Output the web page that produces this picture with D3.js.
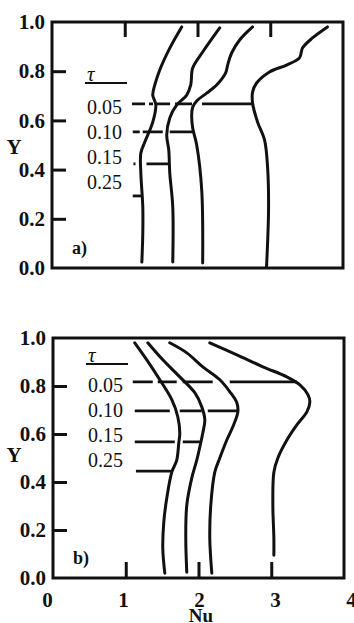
<!DOCTYPE html>
<html lang="en">
<head>
<meta charset="UTF-8">
<title>Nu profiles</title>
<script src="https://cdn.jsdelivr.net/npm/d3@7"></script>
<style>
  body { margin: 0; background: #fff; }
  svg text { font-family: "Liberation Serif", "Times New Roman", serif; fill: #111; }
</style>
</head>
<body>
<svg id="chart" width="354" height="623"></svg>
<script>
// tick values
var yTicks = [0, 0.2, 0.4, 0.6, 0.8, 1.0];
var yTickMarks = [0.2, 0.4, 0.6, 0.8];
var nuTicks = [0, 1, 2, 3, 4];
var nuTickMarks = [1, 2, 3];
var tauLabels = ["0.05", "0.10", "0.15", "0.25"];

// panel a) curves, [Nu, Y], one per tau (0.05, 0.10, 0.15, 0.25)
var aTau05 = [[2.949,0.004],[2.977,0.248],[2.963,0.411],[2.922,0.520],[2.826,0.593],[2.757,0.671],[2.757,0.715],[2.812,0.752],[2.990,0.797],[3.224,0.825],[3.402,0.854],[3.443,0.894],[3.580,0.935],[3.786,0.980]];
var aTau10 = [[2.071,0.020],[2.058,0.317],[1.989,0.500],[1.934,0.569],[1.920,0.622],[1.934,0.654],[1.989,0.679],[2.126,0.711],[2.263,0.744],[2.387,0.793],[2.414,0.825],[2.469,0.874],[2.579,0.927],[2.757,0.980]];
var aTau15 = [[1.660,0.024],[1.660,0.248],[1.619,0.386],[1.605,0.480],[1.577,0.541],[1.619,0.610],[1.715,0.663],[1.852,0.703],[1.907,0.744],[1.934,0.813],[2.071,0.878],[2.305,0.976]];
var aTau25 = [[1.235,0.024],[1.248,0.142],[1.248,0.248],[1.221,0.386],[1.221,0.467],[1.276,0.512],[1.385,0.593],[1.427,0.663],[1.385,0.703],[1.413,0.744],[1.481,0.805],[1.619,0.894],[1.783,0.980]];
// panel a) front markers
var aMarkY  = [0.667, 0.553, 0.423, 0.293];
var aMarkX0 = [1.10, 1.11, 1.12, 1.11];
var aMarkX1 = [2.757, 1.934, 1.62, 1.235];

// panel b) curves
var bTau05 = [[3.036,0.095],[3.036,0.166],[3.022,0.304],[3.036,0.441],[3.091,0.500],[3.215,0.575],[3.352,0.638],[3.490,0.692],[3.531,0.734],[3.504,0.764],[3.394,0.805],[3.215,0.838],[2.885,0.880],[2.527,0.930],[2.155,0.980]];
var bTau10 = [[2.183,0.020],[2.155,0.166],[2.169,0.304],[2.224,0.441],[2.293,0.500],[2.389,0.575],[2.472,0.630],[2.541,0.692],[2.527,0.730],[2.431,0.776],[2.293,0.826],[2.059,0.880],[1.839,0.938],[1.605,0.980]];
var bTau15 = [[1.839,0.024],[1.825,0.166],[1.839,0.304],[1.908,0.417],[1.977,0.492],[2.018,0.546],[2.059,0.604],[2.087,0.659],[2.045,0.713],[1.949,0.772],[1.743,0.838],[1.509,0.909],[1.303,0.980]];
var bTau25 = [[1.537,0.020],[1.509,0.124],[1.523,0.233],[1.564,0.333],[1.633,0.441],[1.700,0.490],[1.729,0.563],[1.743,0.604],[1.715,0.672],[1.633,0.743],[1.468,0.826],[1.289,0.909],[1.124,0.980]];
var bMarkY  = [0.817, 0.696, 0.567, 0.445];
var bMarkX0 = [1.096, 1.124, 1.124, 1.14];
var bMarkX1 = [3.35, 2.54, 2.02, 1.633];

// styles (dash look of the scanned marker lines)
var aDash = ["13,4,4,4,13,5,17,10,80", "7,3,20,7,100", "2,11,100", null];
var bDash = ["20,5,19,6,30,17,90", "35,10,22,6,60", "40,8,40", null];

var svg = d3.select("#chart");

function drawPanel(box, curves, markY, markX0, markX1, dashes, tag, leg) {
  var x = d3.scaleLinear().domain([0, 4]).range([box.left, box.right]);
  var y = d3.scaleLinear().domain([0, 1]).range([box.bottom, box.top]);
  var g = svg.append("g");

  var line = d3.line()
      .x(function(d) { return x(d[0]); })
      .y(function(d) { return y(d[1]); })
      .curve(d3.curveCatmullRom.alpha(0.5));

  g.selectAll("path.curve")
    .data(curves)
    .enter().append("path")
      .attr("class", "curve")
      .attr("d", line)
      .attr("fill", "none")
      .attr("stroke", "#111")
      .attr("stroke-width", 3)
      .attr("stroke-linecap", "round");

  // horizontal front markers
  g.selectAll("line.mark")
    .data(markY)
    .enter().append("line")
      .attr("class", "mark")
      .attr("x1", function(d, i) { return x(markX0[i]); })
      .attr("x2", function(d, i) { return x(markX1[i]); })
      .attr("y1", function(d) { return y(d); })
      .attr("y2", function(d) { return y(d); })
      .attr("stroke", "#111")
      .attr("stroke-width", 2.8)
      .attr("stroke-dasharray", function(d, i) { return dashes[i]; });

  // y tick marks (inside) and labels
  g.append("g")
    .attr("transform", "translate(" + box.left + ",0)")
    .call(d3.axisLeft(y).tickValues(yTickMarks).tickSizeInner(-14).tickSizeOuter(0).tickFormat(""))
    .call(function(s) { s.select(".domain").remove(); })
    .selectAll("line").attr("stroke", "#111").attr("stroke-width", 3);
  g.append("g")
    .attr("transform", "translate(" + box.left + ",0)")
    .call(d3.axisLeft(y).tickValues(yTicks).tickSize(0).tickPadding(7).tickFormat(d3.format(".1f")))
    .call(function(s) { s.select(".domain").remove(); })
    .selectAll("text")
      .attr("font-family", null)
      .attr("font-size", 21)
      .attr("font-weight", "bold");

  // x tick marks
  if (tag === "a)") {
    g.append("g")
      .attr("transform", "translate(0," + box.top + ")")
      .call(d3.axisTop(x).tickValues(nuTickMarks).tickSizeInner(-15).tickSizeOuter(0).tickFormat(""))
      .call(function(s) { s.select(".domain").remove(); })
      .selectAll("line").attr("stroke", "#111").attr("stroke-width", 3);
  } else {
    g.append("g")
      .attr("transform", "translate(0," + box.bottom + ")")
      .call(d3.axisBottom(x).tickValues(nuTickMarks).tickSizeInner(-16).tickSizeOuter(0).tickFormat(""))
      .call(function(s) { s.select(".domain").remove(); })
      .selectAll("line").attr("stroke", "#111").attr("stroke-width", 3);
    // printed labels sit a little wider than the frame in the scan
    var xLab = d3.scaleLinear().domain([0, 4]).range([47, 351]);
    g.append("g")
      .attr("transform", "translate(0," + box.bottom + ")")
      .call(d3.axisBottom(xLab).tickValues(nuTicks).tickSize(0).tickPadding(14).tickFormat(d3.format("d")))
      .call(function(s) { s.select(".domain").remove(); })
      .selectAll("text")
        .attr("font-family", null)
        .attr("font-size", 21)
        .attr("font-weight", "bold");
    g.append("text")
      .attr("x", 201).attr("y", 622)
      .attr("text-anchor", "middle")
      .attr("font-size", 19)
      .attr("font-weight", "bold")
      .text("Nu");
  }

  // frame
  g.append("rect")
    .attr("x", box.left).attr("y", box.top)
    .attr("width", box.right - box.left).attr("height", box.bottom - box.top)
    .attr("fill", "none")
    .attr("stroke", "#111")
    .attr("stroke-width", 3);

  // Y title
  g.append("text")
    .attr("x", 14).attr("y", (box.top + box.bottom) / 2 + 7 + leg.yShift)
    .attr("text-anchor", "middle")
    .attr("font-size", 21)
    .attr("font-weight", "bold")
    .text("Y");

  // panel tag
  g.append("text")
    .attr("x", box.left + 20).attr("y", box.bottom - 14)
    .attr("font-size", 18)
    .attr("font-weight", "bold")
    .text(tag);

  // tau legend
  g.append("text")
    .attr("x", leg.x).attr("y", leg.tauY)
    .attr("font-size", 21)
    .attr("font-style", "italic")
    .text("τ");
  g.append("line")
    .attr("x1", leg.x - 2).attr("x2", leg.x + 40)
    .attr("y1", leg.tauY + 2).attr("y2", leg.tauY + 2)
    .attr("stroke", "#111").attr("stroke-width", 2);
  g.selectAll("text.tau")
    .data(tauLabels)
    .enter().append("text")
      .attr("class", "tau")
      .attr("x", leg.x)
      .attr("y", function(d, i) { return leg.firstY + i * 25; })
      .attr("font-size", 20)
      .text(function(d) { return d; });
}

drawPanel({left: 52, right: 343, top: 22, bottom: 268},
  [aTau05, aTau10, aTau15, aTau25], aMarkY, aMarkX0, aMarkX1, aDash, "a)",
  {x: 87, tauY: 81, firstY: 114, yShift: 2});

drawPanel({left: 53, right: 344, top: 338, bottom: 578},
  [bTau05, bTau10, bTau15, bTau25], bMarkY, bMarkX0, bMarkX1, bDash, "b)",
  {x: 88, tauY: 362, firstY: 392, yShift: -3});
</script>
</body>
</html>
